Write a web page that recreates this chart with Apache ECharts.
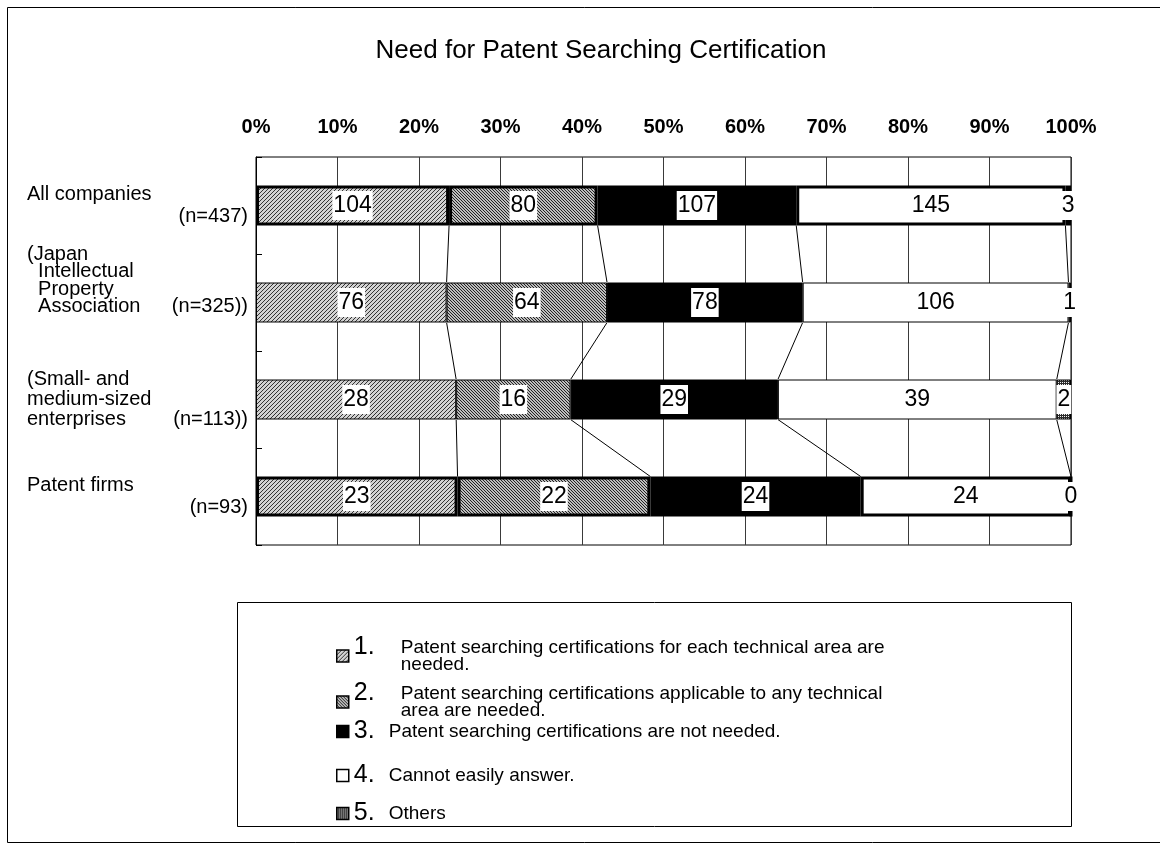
<!DOCTYPE html>
<html>
<head>
<meta charset="utf-8">
<script src="https://cdn.jsdelivr.net/npm/echarts@6/dist/echarts.min.js"></script>
<style>
  html, body { margin: 0; padding: 0; background: #fff; }
  #chart { width: 1160px; height: 849px; }
</style>
</head>
<body>
<div id="chart"></div>
<script>
// Survey groups (line breaks are where the axis label wraps)
const categories = [
  'All companies',
  '(Japan\n  Intellectual\n  Property\n  Association',
  '(Small- and\nmedium-sized\nenterprises',
  'Patent firms'
];
const sampleSizes = [437, 325, 113, 93];

// Answer options (legend text, wrapped)
const answerNames = [
  'Patent searching certifications for each technical area are\nneeded.',
  'Patent searching certifications applicable to any technical\narea are needed.',
  'Patent searching certifications are not needed.',
  'Cannot easily answer.',
  'Others'
];

// Number of respondents per answer, one entry per group
const needPerArea   = [104, 76, 28, 23];
const needAnyArea   = [80, 64, 16, 22];
const notNeeded     = [107, 78, 29, 24];
const cannotAnswer  = [145, 106, 39, 24];
const others        = [3, 1, 2, 0];

const answerCounts = [needPerArea, needAnyArea, notNeeded, cannotAnswer, others];

const FONT = '"Liberation Sans", Arial, Helvetica, sans-serif';
const BAR_WIDTH = 40;

// Share of each answer within its group, in percent
const totals = categories.map((_, c) => answerCounts.reduce((s, arr) => s + arr[c], 0));
const shares = answerCounts.map(arr => arr.map((v, c) => v / totals[c] * 100));
// Running boundaries between answers for every group
const boundaries = categories.map((_, c) => {
  const out = [0];
  shares.forEach(arr => out.push(out[out.length - 1] + arr[c]));
  return out;
});

// Pixel fill patterns for the bars
function makePattern(size, bg, fg, ink) {
  const cv = document.createElement('canvas');
  cv.width = size; cv.height = size;
  const ctx = cv.getContext('2d');
  ctx.fillStyle = bg; ctx.fillRect(0, 0, size, size);
  ctx.fillStyle = fg;
  for (let y = 0; y < size; y++) for (let x = 0; x < size; x++) if (ink(x, y)) ctx.fillRect(x, y, 1, 1);
  return { image: cv, repeat: 'repeat' };
}
const fills = [
  makePattern(4, '#d2d2d2', '#333333', (x, y) => (x + y) % 4 === 0),
  makePattern(3, '#bdbdbd', '#222222', (x, y) => (x - y + 3) % 3 === 0),
  '#000000',
  '#ffffff',
  makePattern(2, '#2c2c2c', '#f2f2f2', (x, y) => x === 0 && y === 0)
];
const heavyRows = [0, 3];
const boxedLabels = [true, true, true, false, true];

const barSeries = answerNames.map((name, s) => ({
  name: name,
  type: 'bar',
  stack: 'total',
  barWidth: BAR_WIDTH,
  z: 3,
  itemStyle: { color: fills[s], borderColor: '#000', borderWidth: 1 },
  label: {
    show: true,
    position: 'inside',
    formatter: p => String(answerCounts[s][p.dataIndex]),
    color: '#000',
    fontFamily: FONT,
    fontSize: 23,
    backgroundColor: boxedLabels[s] ? '#fff' : 'transparent',
    padding: boxedLabels[s] ? [4, 1, 2, 1] : 0
  },
  emphasis: { disabled: true },
  data: shares[s].map((v, c) => ({
    value: v,
    itemStyle: { borderWidth: heavyRows.includes(c) ? 3 : 1 }
  }))
}));

// Thin connector lines joining the answer boundaries of neighbouring bars
const connectorSeries = {
  type: 'custom',
  coordinateSystem: 'cartesian2d',
  silent: true,
  z: 2,
  encode: { x: 0, y: 1 },
  data: categories.slice(0, -1).map((_, i) => [0, i]),
  renderItem: (params, api) => {
    const i = params.dataIndex;
    const half = BAR_WIDTH / 2;
    const children = [];
    for (let k = 1; k <= 4; k++) {
      const a = api.coord([boundaries[i][k], i]);
      const b = api.coord([boundaries[i + 1][k], i + 1]);
      children.push({
        type: 'line',
        shape: { x1: a[0], y1: a[1] + half, x2: b[0], y2: b[1] - half },
        style: { stroke: '#000', lineWidth: 1 }
      });
    }
    return { type: 'group', children };
  }
};

// Group labels: name on the left, sample size right-aligned against the axis
function groupLabel(value, idx) {
  const lines = value.split('\n');
  const nText = '(n=' + sampleSizes[idx] + ')' + (value.trim().charAt(0) === '(' ? ')' : '');
  if (lines.length === 1) return '{solo|' + lines[0] + '}\n{soloN|' + nText + '}';
  const k = lines.length > 3 ? 'q' : 't';
  let out = lines.slice(0, -1).map(l => '{' + k + 'Line|' + l + '}').join('\n');
  out += '\n{' + k + 'Last|' + lines[lines.length - 1] + '}{' + k + 'N|' + nText + '}';
  if (k === 'q') out += '\n{qPad| }';
  return out;
}
const tx = { fontFamily: FONT, fontSize: 20, color: '#000' };
const groupRich = {
  solo:  Object.assign({ width: 221, align: 'left',  lineHeight: 22 }, tx),
  soloN: Object.assign({ width: 221, align: 'right', lineHeight: 22 }, tx),
  qLine: Object.assign({ width: 221, align: 'left',  lineHeight: 17.5 }, tx),
  qLast: Object.assign({ width: 128, align: 'left',  lineHeight: 17.5 }, tx),
  qN:    Object.assign({ width: 93,  align: 'right', lineHeight: 17.5 }, tx),
  qPad:  { fontSize: 1, lineHeight: 44 },
  tLine: Object.assign({ width: 221, align: 'left',  lineHeight: 20 }, tx),
  tLast: Object.assign({ width: 128, align: 'left',  lineHeight: 20 }, tx),
  tN:    Object.assign({ width: 93,  align: 'right', lineHeight: 20 }, tx)
};

// Legend: numbered entries inside a framed box
const legendTops = [635, 681, 719, 763, 801];
const legendRich = {
  num:   { fontFamily: FONT, fontSize: 25, width: 14, lineHeight: 17, color: '#000' },
  dotW:  { fontFamily: FONT, fontSize: 25, width: 33, lineHeight: 17, color: '#000' },
  dotN:  { fontFamily: FONT, fontSize: 25, width: 21, lineHeight: 17, color: '#000' },
  ind:   { width: 47, lineHeight: 17 },
  txt:   { fontFamily: FONT, fontSize: 19, lineHeight: 17, color: '#000' }
};
const legends = answerNames.map((name, i) => ({
  data: [name],
  left: 336,
  top: legendTops[i],
  orient: 'vertical',
  padding: 0,
  icon: 'rect',
  itemWidth: 12,
  itemHeight: 12,
  selectedMode: false,
  itemStyle: { borderColor: '#000', borderWidth: 1.5 },
  textStyle: { rich: legendRich },
  formatter: n => {
    const lines = n.split('\n');
    const dot = lines.length > 1 ? 'dotW' : 'dotN';
    let out = '{num|' + (i + 1) + '}{' + dot + '|.}{txt|' + lines[0] + '}';
    for (let j = 1; j < lines.length; j++) out += '\n{ind| }{txt|' + lines[j] + '}';
    return out;
  }
}));

const chart = echarts.init(document.getElementById('chart'), null, { renderer: 'canvas' });
chart.setOption({
  animation: false,
  backgroundColor: '#fff',
  title: {
    text: 'Need for Patent Searching Certification',
    left: 596,
    top: 33,
    textAlign: 'center',
    textStyle: { fontFamily: FONT, fontSize: 26, fontWeight: 'normal', color: '#000' }
  },
  grid: {
    left: 256, top: 157, width: 815, height: 388,
    show: true, borderColor: '#000', borderWidth: 1, backgroundColor: 'transparent'
  },
  xAxis: {
    type: 'value',
    position: 'top',
    min: 0, max: 100, interval: 10,
    axisLine: { show: false },
    axisTick: { show: false },
    axisLabel: { formatter: '{value}%', fontFamily: FONT, fontSize: 20, fontWeight: 'bold', color: '#000', margin: 20 },
    splitLine: { show: true, lineStyle: { color: '#3a3a3a', width: 1 } }
  },
  yAxis: {
    type: 'category',
    inverse: true,
    data: categories,
    axisLine: { show: true, lineStyle: { color: '#000', width: 1 } },
    axisTick: { show: true, inside: true, length: 6, lineStyle: { color: '#000' } },
    axisLabel: { interval: 0, margin: 8, formatter: groupLabel, rich: groupRich, fontFamily: FONT, fontSize: 20, color: '#000' }
  },
  legend: legends,
  graphic: [
    { type: 'rect', silent: true, z: -10, shape: { x: 7.5, y: 7.5, width: 1170, height: 835 },
      style: { fill: 'none', stroke: '#000', lineWidth: 1 } },
    { type: 'rect', silent: true, z: -10, shape: { x: 237.5, y: 602.5, width: 834, height: 224 },
      style: { fill: 'none', stroke: '#000', lineWidth: 1 } }
  ],
  series: barSeries.concat([connectorSeries])
});
</script>
</body>
</html>
